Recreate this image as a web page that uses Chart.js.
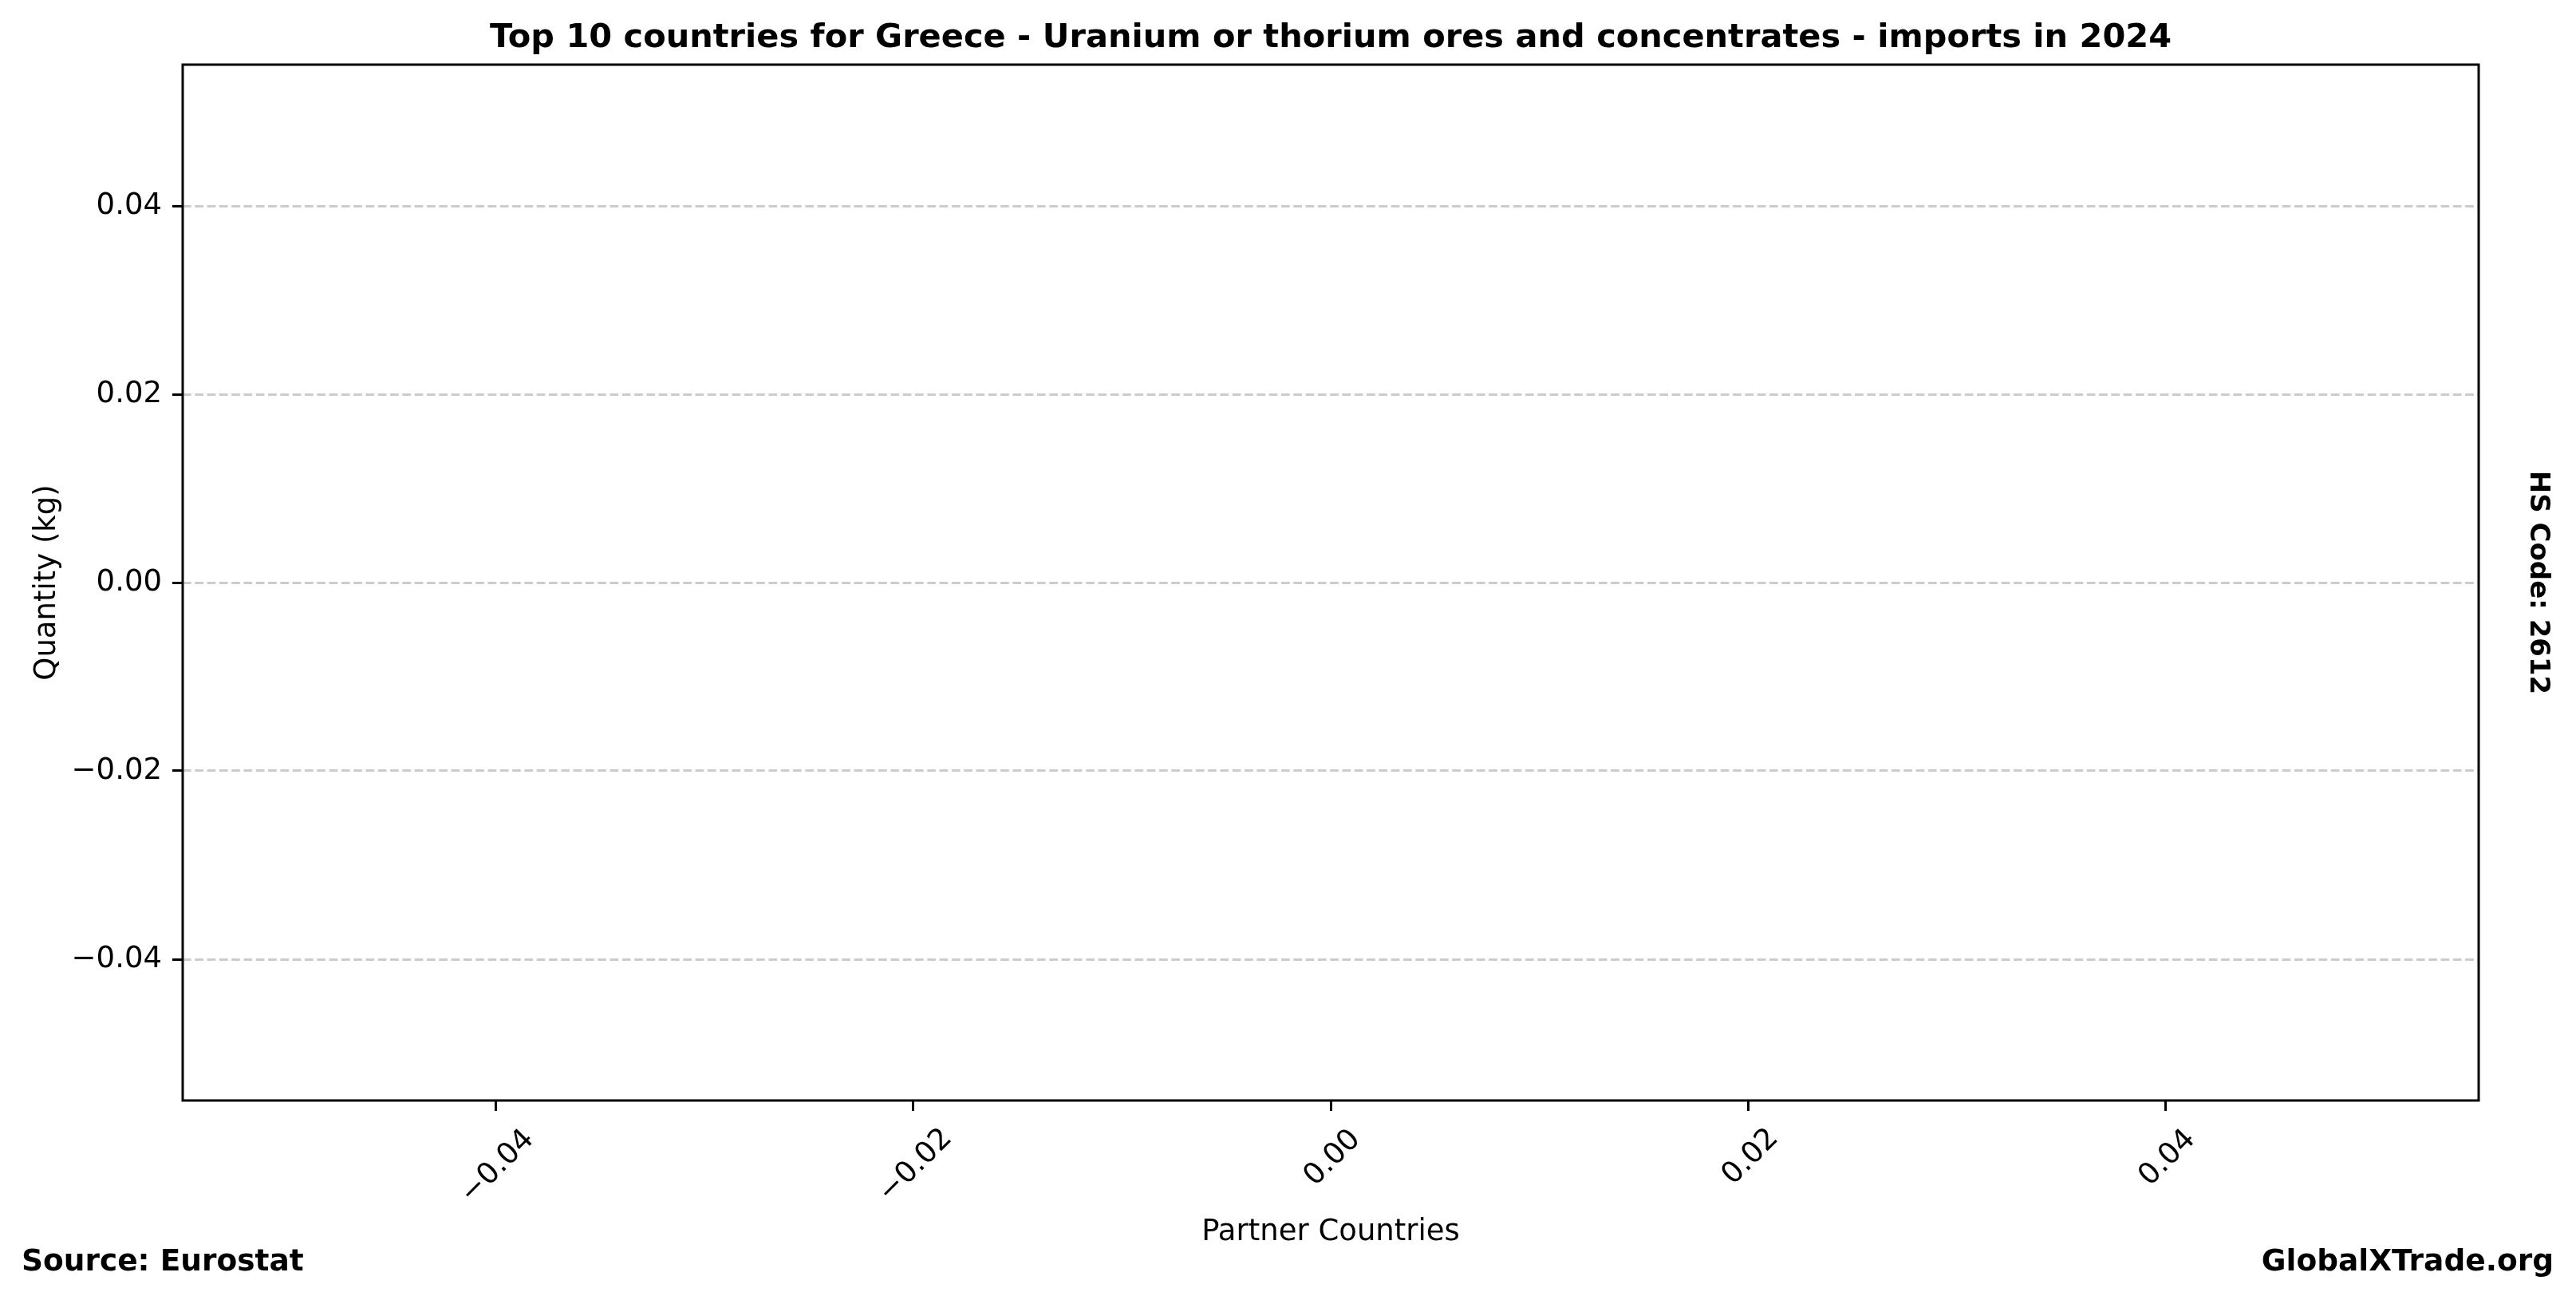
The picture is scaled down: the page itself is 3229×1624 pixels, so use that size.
<!DOCTYPE html>
<html>

<head>
  <meta charset="utf-8">
  <title>Top 10 countries for Greece - Uranium or thorium ores and concentrates - imports in 2024</title>
  <style>
    html, body { margin: 0; padding: 0; background: #fff; }
    #wrap { width: 3229px; height: 1624px; position: relative; }
  </style>
</head>

<body>
  <div id="wrap">
    <canvas id="mychart"></canvas>
  </div>

  <script src="https://cdn.jsdelivr.net/npm/chart.js"></script>

  <script>
    // no partner countries reported for this year, so the chart is empty
    const countries = [];
    const quantities = [];

    // matplotlib's default axis for an empty plot
    const xTicks = [-0.04, -0.02, 0.00, 0.02, 0.04];
    const yTicks = [-0.04, -0.02, 0.00, 0.02, 0.04];
    const axisMin = -0.055;
    const axisMax = 0.055;

    const chartTitle = 'Top 10 countries for Greece - Uranium or thorium ores and concentrates - imports in 2024';
    const xTitle = 'Partner Countries';
    const yTitle = 'Quantity (kg)';
    const hsCode = 'HS Code: 2612';
    const sourceText = 'Source: Eurostat';
    const siteText = 'GlobalXTrade.org';

    const FONT = '"DejaVu Sans", Verdana, sans-serif';

    // format like matplotlib (real minus sign)
    function fmt(v) {
      return (v < 0 ? '\u2212' : '') + Math.abs(v).toFixed(2);
    }

    // frame, rotated x labels and all the loose texts
    const extras = {
      id: 'extras',
      afterDraw(chart) {
        const ctx = chart.ctx;
        const area = chart.chartArea;
        ctx.save();

        // axes box
        ctx.strokeStyle = '#000';
        ctx.lineWidth = 3;
        ctx.strokeRect(area.left, area.top, area.right - area.left, area.bottom - area.top);

        ctx.fillStyle = '#000';

        // x tick labels, rotated 45deg, box centred under the tick
        ctx.font = '37px ' + FONT;
        const capH = 27;
        const xs = chart.scales.x;
        xTicks.forEach(v => {
          const label = fmt(v);
          const m = ctx.measureText(label);
          const w = m.actualBoundingBoxLeft + m.actualBoundingBoxRight;
          const px = xs.getPixelForValue(v);
          const cy = area.bottom + 32 + (w + capH) * Math.SQRT1_2 / 2;
          ctx.save();
          ctx.translate(px, cy);
          ctx.rotate(-Math.PI / 4);
          ctx.textAlign = 'left';
          ctx.textBaseline = 'alphabetic';
          ctx.fillText(label, -(m.actualBoundingBoxRight - m.actualBoundingBoxLeft) / 2, capH / 2);
          ctx.restore();
        });

        // title
        ctx.font = 'bold 41.5px ' + FONT;
        ctx.textAlign = 'center';
        ctx.textBaseline = 'alphabetic';
        ctx.fillText(chartTitle, (area.left + area.right) / 2, 59);

        // axis titles
        ctx.font = '37px ' + FONT;
        ctx.fillText(xTitle, (area.left + area.right) / 2, 1554);
        ctx.save();
        ctx.translate(69, (area.top + area.bottom) / 2);
        ctx.rotate(-Math.PI / 2);
        ctx.fillText(yTitle, 0, 0);
        ctx.restore();

        // hs code on the right
        ctx.font = 'bold 34px ' + FONT;
        ctx.save();
        ctx.translate(3172, (area.top + area.bottom) / 2);
        ctx.rotate(Math.PI / 2);
        ctx.fillText(hsCode, 0, 0);
        ctx.restore();

        // footer
        ctx.font = 'bold 37.5px ' + FONT;
        ctx.textAlign = 'left';
        ctx.fillText(sourceText, 27, 1592);
        ctx.textAlign = 'right';
        ctx.fillText(siteText, 3201, 1592);

        ctx.restore();
      }
    };

    const ctx = document.getElementById('mychart').getContext('2d');

    const data = {
      datasets: [{
        label: 'Quantity (kg)',
        backgroundColor: '#1f77b4',
        data: countries.map((c, i) => ({ x: i, y: quantities[i] })),
      }],
    };

    const options = {
      responsive: true,
      maintainAspectRatio: false,
      animation: false,
      layout: {
        padding: { left: 0, right: 122, top: 81, bottom: 0 },
      },
      plugins: {
        legend: { display: false },
        title: { display: false },
        tooltip: { enabled: false },
      },
      scales: {
        x: {
          type: 'linear',
          position: 'bottom',
          min: axisMin,
          max: axisMax,
          afterBuildTicks: (scale) => { scale.ticks = xTicks.map(v => ({ value: v })); },
          afterFit: (scale) => { scale.height = 245; },
          ticks: { display: false },
          border: { display: false },
          grid: {
            drawOnChartArea: false,
            drawTicks: true,
            tickLength: 13,
            tickColor: '#000',
            tickWidth: 3,
          },
        },
        y: {
          type: 'linear',
          position: 'left',
          min: axisMin,
          max: axisMax,
          afterBuildTicks: (scale) => { scale.ticks = yTicks.map(v => ({ value: v })); },
          afterFit: (scale) => { scale.width = 229; },
          ticks: {
            color: '#000',
            padding: 13,
            font: { family: FONT, size: 37 },
            callback: (v) => fmt(v),
          },
          // in v4 the grid line dash is read from border.dash
          border: { display: false, dash: [10.7, 4.6] },
          grid: {
            color: '#cccccc',
            lineWidth: 3,
            drawTicks: true,
            tickLength: 13,
            tickColor: '#000',
            tickWidth: 3,
            tickBorderDash: [],
          },
        },
      },
    };

    new Chart(ctx, {
      type: 'scatter',
      data: data,
      options: options,
      plugins: [extras],
    });
  </script>
</body>

</html>
